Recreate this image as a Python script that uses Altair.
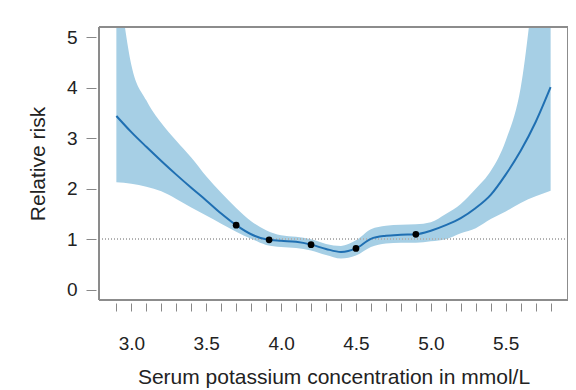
import altair as alt
import pandas as pd

x_vals = [2.9, 3.0, 3.1, 3.2, 3.3, 3.4, 3.5, 3.6, 3.7, 3.8, 3.9, 4.0, 4.1, 4.2, 4.3,
          4.4, 4.5, 4.6, 4.7, 4.8, 4.9, 5.0, 5.1, 5.2, 5.3, 5.4, 5.5, 5.6, 5.7, 5.8]
rr_fit = [3.44, 3.12, 2.83, 2.55, 2.28, 2.02, 1.77, 1.51, 1.28, 1.10, 1.00, 0.97, 0.95, 0.895, 0.81,
          0.75, 0.82, 1.01, 1.07, 1.09, 1.10, 1.17, 1.28, 1.42, 1.62, 1.88, 2.28, 2.75, 3.32, 4.01]
rr_upper = [6.5, 4.45, 3.75, 3.30, 2.95, 2.62, 2.25, 1.92, 1.62, 1.36, 1.18, 1.08, 1.05, 1.00, 0.91,
            0.87, 0.98, 1.20, 1.27, 1.29, 1.30, 1.34, 1.50, 1.70, 2.00, 2.35, 2.95, 4.00, 6.30, 8.50]
rr_lower = [2.13, 2.10, 2.04, 1.95, 1.80, 1.63, 1.47, 1.31, 1.15, 1.01, 0.89, 0.85, 0.83, 0.78, 0.69,
            0.62, 0.68, 0.85, 0.92, 0.93, 0.93, 0.96, 1.00, 1.12, 1.22, 1.40, 1.55, 1.72, 1.85, 1.96]

pt_x = [3.7, 3.92, 4.2, 4.5, 4.9]
pt_y = [1.28, 0.99, 0.895, 0.82, 1.10]

x_ticks = [round(2.9 + 0.1 * i, 1) for i in range(30)]
x_labels = ["3.0", "3.5", "4.0", "4.5", "5.0", "5.5"]
y_ticks = [0, 1, 2, 3, 4, 5]
x_domain = [2.784, 5.916]
y_domain = [-0.2, 5.2]

curve = pd.DataFrame({"k": x_vals, "rr": rr_fit, "lo": rr_lower, "hi": rr_upper})
pts = pd.DataFrame({"k": pt_x, "rr": pt_y})

FONT = "Liberation Sans"

x_enc = alt.X(
    "k:Q",
    scale=alt.Scale(domain=x_domain, nice=False, zero=False),
    axis=alt.Axis(
        title="Serum potassium concentration in mmol/L",
        values=x_ticks,
        tickCount=60,
        format=".1f",
        labelExpr="indexof(" + str(x_labels) + ", datum.label) >= 0 ? datum.label : ''",
        labelOverlap=False, labelBound=False, labelFlush=False,
        grid=False, domain=False, offset=3, tickSize=8, tickColor="#888888",
        labelFontSize=19, labelPadding=23, labelColor="#222222", labelFont=FONT,
        titleFontSize=21, titleFontWeight="normal", titlePadding=13, titleColor="#222222",
        titleFont=FONT,
    ),
)
y_scale = alt.Scale(domain=y_domain, nice=False, zero=False)
y_axis = alt.Axis(
    title="Relative risk",
    values=y_ticks,
    tickCount=10,
    format="d",
    labelOverlap=False,
    grid=False, domain=False, offset=3, tickSize=10, tickColor="#888888",
    labelFontSize=19, labelPadding=9, labelColor="#222222", labelFont=FONT,
    titleFontSize=21, titleFontWeight="normal", titlePadding=18, titleColor="#222222",
    titleFont=FONT,
)

band = alt.Chart(curve).mark_area(color="#a6cfe5", opacity=1, interpolate="monotone", clip=True).encode(
    x=x_enc,
    y=alt.Y("lo:Q", scale=y_scale, axis=y_axis),
    y2="hi:Q",
)

ref = alt.Chart(curve).mark_rule(color="#b0b0b0", strokeDash=[1, 2], strokeWidth=1).encode(
    y=alt.datum(1)
)

line = alt.Chart(curve).mark_line(color="#1f6fb2", strokeWidth=2, interpolate="monotone", clip=True).encode(
    x="k:Q", y="rr:Q"
)

dots = alt.Chart(pts).mark_circle(color="black", opacity=1, size=45).encode(
    x="k:Q", y="rr:Q"
)

FRAME = "#8c8c8c"
frame_bottom = alt.Chart(curve).mark_rule(color=FRAME, strokeWidth=1.3).encode(y=alt.datum(y_domain[0]))
frame_top = alt.Chart(curve).mark_rule(color=FRAME, strokeWidth=1.3).encode(y=alt.datum(y_domain[1]))
frame_left = alt.Chart(curve).mark_rule(color=FRAME, strokeWidth=1.3).encode(x=alt.datum(x_domain[0]))
frame_right = alt.Chart(curve).mark_rule(color=FRAME, strokeWidth=1.3).encode(x=alt.datum(x_domain[1]))

chart = (
    alt.layer(band, ref, line, dots, frame_bottom, frame_top, frame_left, frame_right)
    .properties(width=469, height=273, autosize=alt.AutoSizeParams(type="none"),
                padding={"left": 91, "top": 19, "right": 0, "bottom": 90},
                background="white")
    .configure_view(stroke=None)
)

chart.save("out.html", embed_options={"renderer": "svg", "actions": False})
